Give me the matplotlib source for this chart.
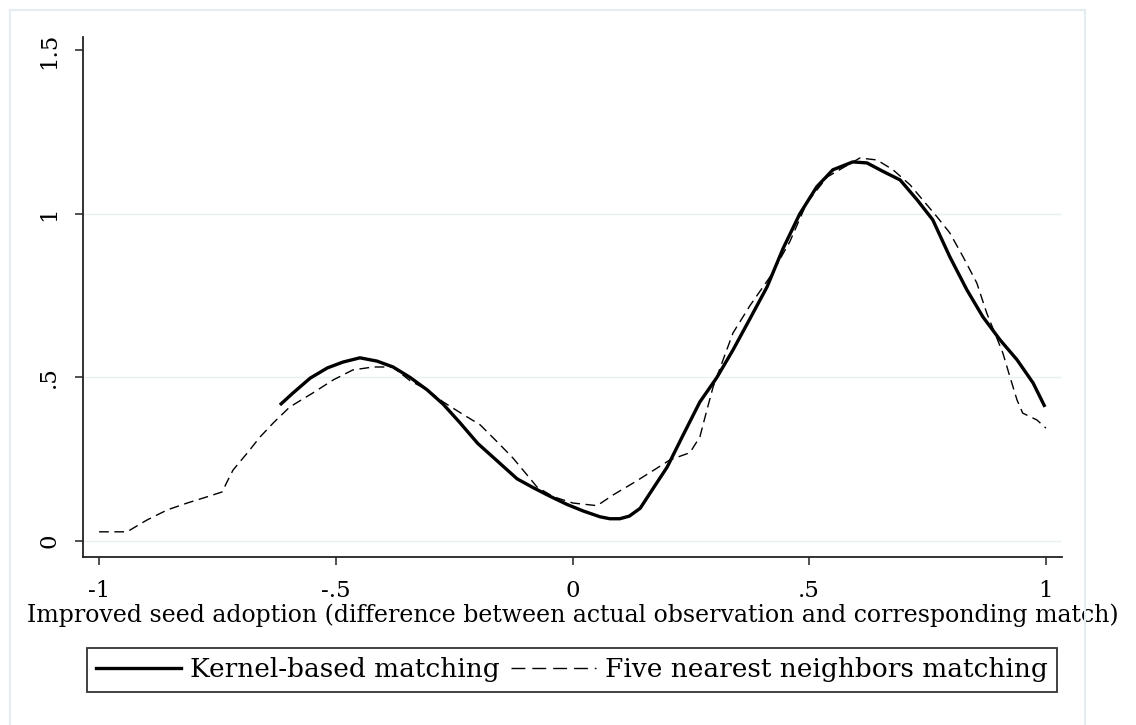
import matplotlib
matplotlib.use("Agg")
import matplotlib.pyplot as plt
from matplotlib.lines import Line2D
import numpy as np

# ---- data ----
kernel_x = [-0.618, -0.590, -0.554, -0.518, -0.485, -0.449, -0.413, -0.379, -0.343,
            -0.307, -0.273, -0.238, -0.200, -0.160, -0.117, -0.083, -0.048, -0.012,
            0.022, 0.058, 0.079, 0.100, 0.120, 0.143, 0.170, 0.200, 0.233, 0.269,
            0.305, 0.339, 0.375, 0.411, 0.445, 0.480, 0.516, 0.550, 0.592, 0.622,
            0.656, 0.692, 0.728, 0.761, 0.797, 0.833, 0.867, 0.903, 0.939, 0.973, 0.998]
kernel_y = [0.416, 0.453, 0.498, 0.529, 0.547, 0.560, 0.550, 0.532, 0.500,
            0.462, 0.418, 0.362, 0.298, 0.246, 0.190, 0.163, 0.137, 0.112,
            0.092, 0.074, 0.068, 0.068, 0.076, 0.100, 0.160, 0.226, 0.322, 0.425,
            0.500, 0.584, 0.680, 0.777, 0.895, 1.000, 1.083, 1.135, 1.159, 1.156,
            1.130, 1.104, 1.043, 0.982, 0.869, 0.768, 0.685, 0.615, 0.554, 0.483, 0.410]

nn_x = [-1.000, -0.941, -0.899, -0.856, -0.814, -0.772, -0.740, -0.730, -0.717,
        -0.687, -0.660, -0.632, -0.597, -0.548, -0.506, -0.464, -0.421, -0.380,
        -0.343, -0.307, -0.273, -0.238, -0.195, -0.159, -0.126, -0.096, -0.075,
        -0.040, 0.001, 0.052, 0.086, 0.128, 0.170, 0.206, 0.248, 0.269, 0.284,
        0.297, 0.339, 0.375, 0.417, 0.459, 0.495, 0.538, 0.607, 0.643, 0.677,
        0.713, 0.770, 0.797, 0.825, 0.854, 0.875, 0.909, 0.924, 0.939, 0.951,
        0.981, 1.000]
nn_y = [0.028, 0.028, 0.064, 0.095, 0.116, 0.135, 0.150, 0.180, 0.217,
        0.269, 0.318, 0.361, 0.410, 0.453, 0.492, 0.523, 0.532, 0.532,
        0.490, 0.462, 0.425, 0.393, 0.355, 0.303, 0.254, 0.202, 0.165,
        0.135, 0.116, 0.108, 0.141, 0.177, 0.215, 0.248, 0.270, 0.318, 0.401,
        0.471, 0.636, 0.720, 0.807, 0.915, 1.034, 1.113, 1.171, 1.165, 1.135,
        1.089, 0.991, 0.942, 0.869, 0.789, 0.697, 0.575, 0.502, 0.431, 0.391,
        0.370, 0.345]

x_ticks = [-1, -0.5, 0, 0.5, 1]
x_tick_labels = ["-1", "-.5", "0", ".5", "1"]
y_ticks = [0, 0.5, 1, 1.5]
y_tick_labels = ["0", ".5", "1", "1.5"]

x_label = "Improved seed adoption (difference between actual observation and corresponding match)"
legend_labels = ["Kernel-based matching", "Five nearest neighbors matching"]

# ---- style ----
plt.rcParams['font.family'] = ['DejaVu Serif']
FS_TICK = 16.5
FS_LAB = 17
FS_LEG = 19
W, H = 1136, 725
fig = plt.figure(figsize=(W / 100, H / 100), dpi=100)
fig.patch.set_facecolor('white')

ax = fig.add_axes([83 / W, 1 - 557 / H, (1062 - 83) / W, (557 - 37) / H])
ax.set_xlim(-1.034, 1.034)
ax.set_ylim(-0.049, 1.541)

grid_c = '#e8f0f3'
for yv in y_ticks[:-1]:
    ax.axhline(yv, color=grid_c, lw=1.0, zorder=0)

l1, = ax.plot(kernel_x, kernel_y, color='black', lw=2.4, solid_capstyle='butt', zorder=3)
l2, = ax.plot(nn_x, nn_y, color='black', lw=1.0, dashes=(7, 4), zorder=2)

for s in ['top', 'right']:
    ax.spines[s].set_visible(False)
for s in ['left', 'bottom']:
    ax.spines[s].set_color('#222222')
    ax.spines[s].set_linewidth(1.3)

ax.set_xticks(x_ticks)
ax.set_xticklabels(x_tick_labels, fontsize=FS_TICK)
ax.set_yticks(y_ticks)
ax.set_yticklabels(y_tick_labels, fontsize=FS_TICK, rotation=90, va='center')
ax.tick_params(axis='both', direction='out', length=5.5, width=1.1, color='#222222')
ax.tick_params(axis='x', pad=11)
ax.tick_params(axis='y', pad=11)
ax.set_xlabel(x_label, fontsize=FS_LAB, labelpad=1)

# legend
h1 = Line2D([], [], color='black', lw=2.4)
h2 = Line2D([], [], color='black', lw=1.0, dashes=(10, 5))
leg = fig.legend([h1, h2], legend_labels, loc='center',
                 bbox_to_anchor=(572 / W, 1 - 670 / H), ncol=2, frameon=True,
                 fancybox=False, fontsize=FS_LEG, handlelength=3.2, handletextpad=0.35,
                 columnspacing=0.45, borderpad=0.35, borderaxespad=0, edgecolor='black')
leg.get_frame().set_linewidth(1.3)

# outer graph-region border
bc = '#e4ecf1'
fig.add_artist(Line2D([10 / W, 10 / W], [0, 1 - 10 / H], color=bc, lw=1.5, transform=fig.transFigure))
fig.add_artist(Line2D([10 / W, 1085 / W], [1 - 10 / H, 1 - 10 / H], color=bc, lw=1.5, transform=fig.transFigure))
fig.add_artist(Line2D([1085 / W, 1085 / W], [0, 1 - 10 / H], color=bc, lw=1.5, transform=fig.transFigure))

fig.savefig('out.png', dpi=100)
